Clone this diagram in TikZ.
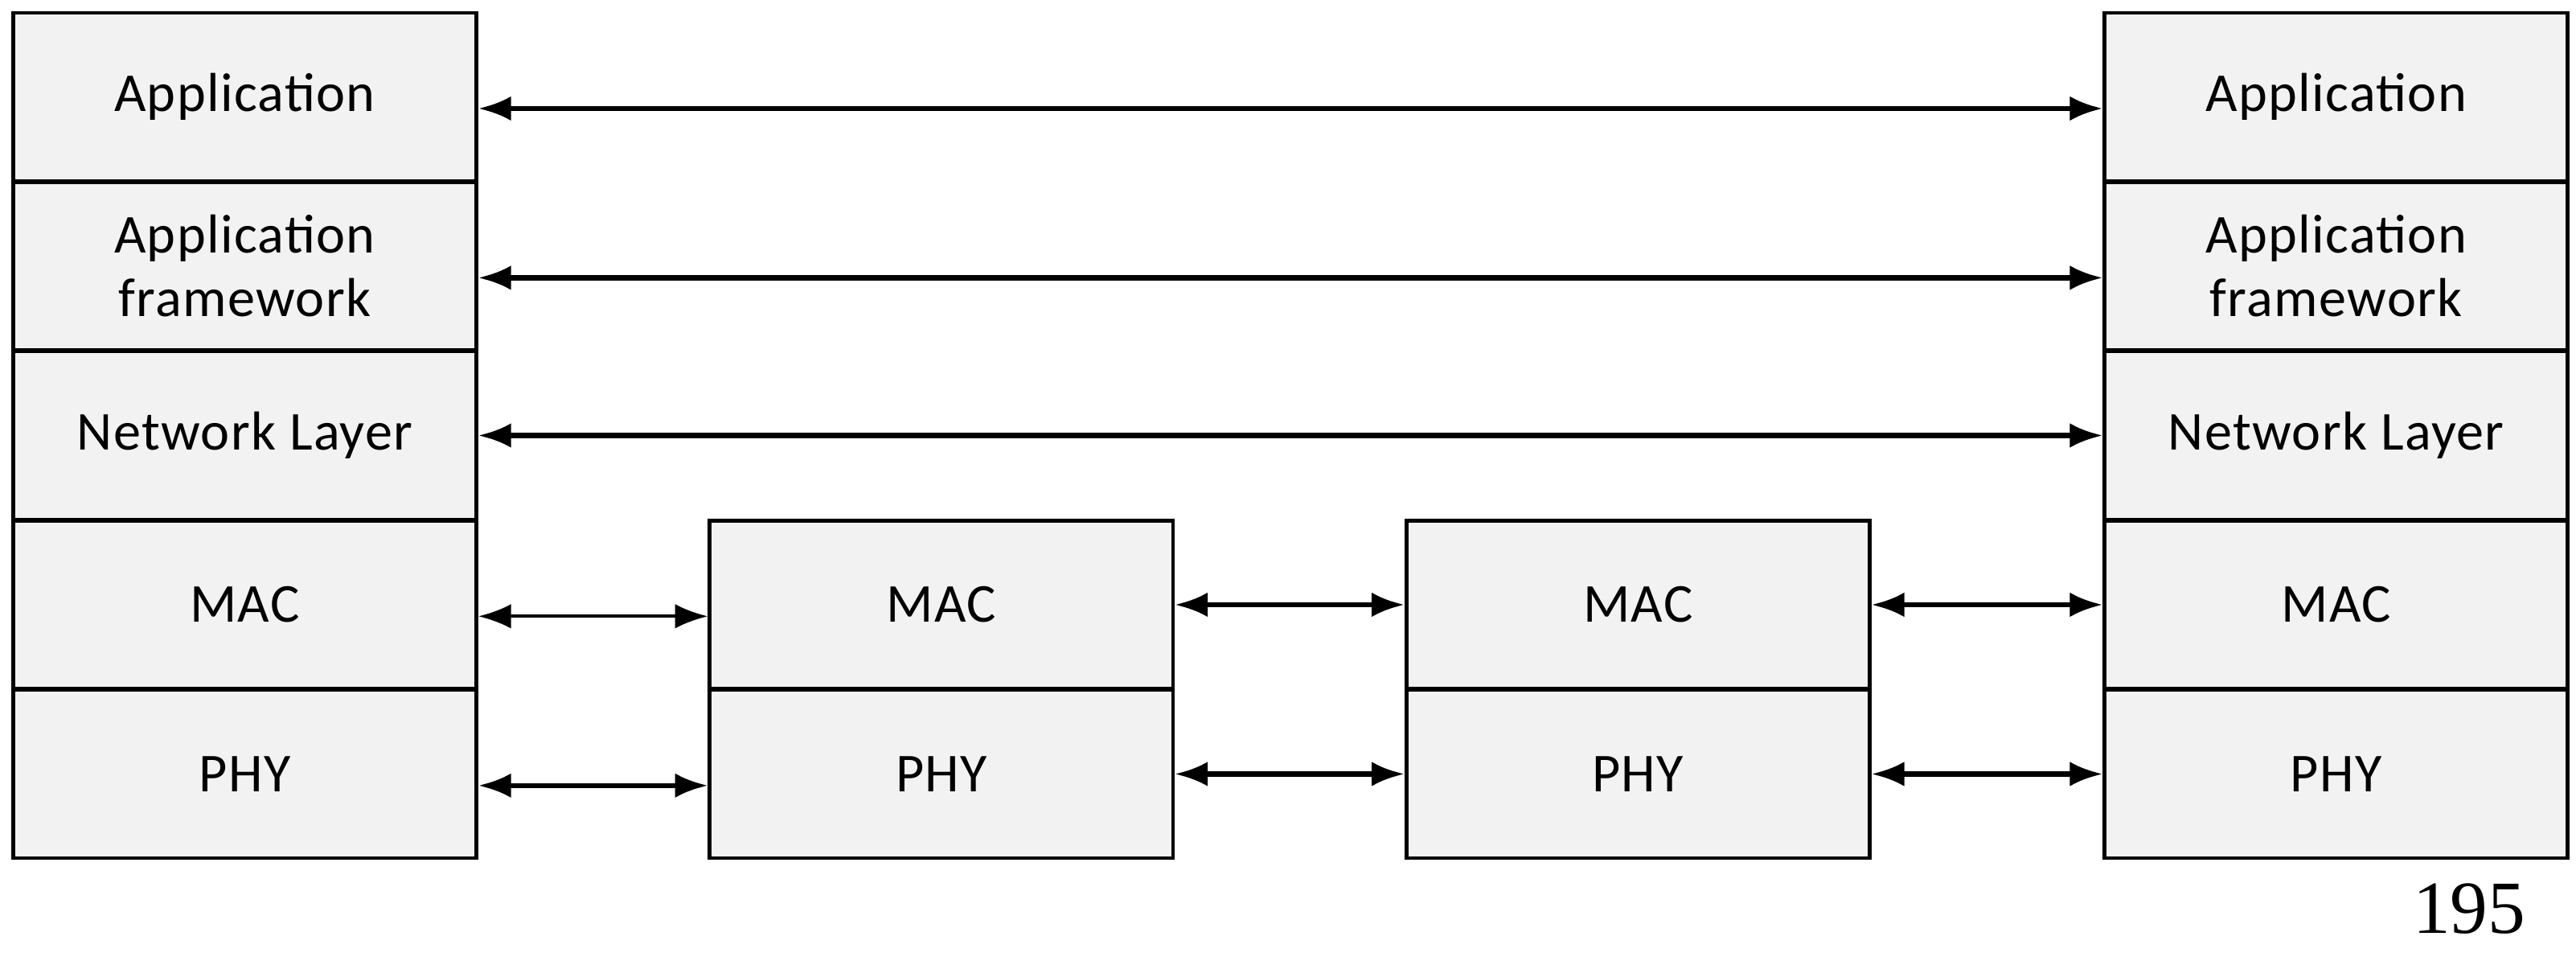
\documentclass[tikz,border=0pt]{standalone}
\usepackage{fontspec}
\setmainfont{Carlito}[LetterSpace=2]
\newfontfamily\pagefont{Liberation Serif}
\usetikzlibrary{arrows.meta, positioning}

\begin{document}
\begin{tikzpicture}[
  x=0.02cm, y=-0.02cm,
  layer/.style = {draw, line width=1.3pt, fill=black!5, minimum width=5.64cm,
                  minimum height=2.05cm, align=center, inner sep=0pt,
                  font=\fontsize{19}{22}\selectfont},
  link/.style = {line width=1.8pt, {Latex[length=4mm,width=3mm]}-{Latex[length=4mm,width=3mm]}}
]
  \useasboundingbox (0,0) rectangle (1568,582);

  % end stacks
  \foreach \side/\cx in {l/149, r/1422} {
    \node[layer] (\side app) at (\cx,59)  {Application};
    \node[layer] (\side fw)  at (\cx,162) {Application\\framework};
    \node[layer] (\side net) at (\cx,265) {Network Layer};
    \node[layer] (\side mac) at (\cx,368) {MAC};
    \node[layer] (\side phy) at (\cx,471) {PHY};
  }

  % relays
  \node[layer] (amac) at (573,368) {MAC};
  \node[layer] (aphy) at (573,471) {PHY};
  \node[layer] (bmac) at (997,368) {MAC};
  \node[layer] (bphy) at (997,471) {PHY};

  % peer links
  \draw[link] ([yshift=-4pt]lapp.east) -- ([yshift=-4pt]rapp.west);
  \draw[link] ([yshift=-4pt]lfw.east) -- ([yshift=-4pt]rfw.west);
  \draw[link] (lnet) -- (rnet);
  \draw[link, line width=1.2pt] ([yshift=-4pt]lmac.east) -- ([yshift=-4pt]amac.west);
  \draw[link] (amac) -- (bmac);
  \draw[link] (bmac) -- (rmac);
  \draw[link] ([yshift=-4pt]lphy.east) -- ([yshift=-4pt]aphy.west);
  \draw[link] (aphy) -- (bphy);
  \draw[link] (bphy) -- (rphy);

  \node[font=\pagefont\fontsize{26}{28}\selectfont] (pageno) at (1503,553) {195};
\end{tikzpicture}
\end{document}
